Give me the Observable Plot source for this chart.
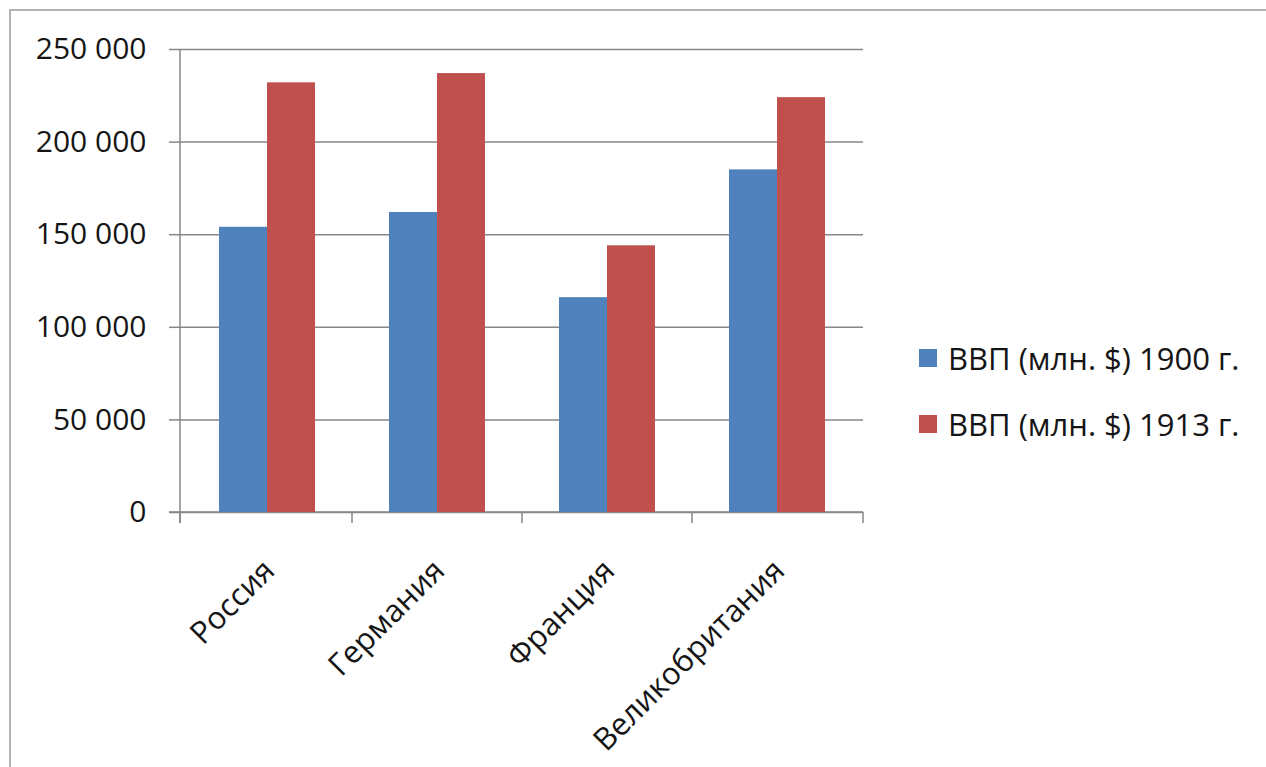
<!DOCTYPE html>
<html>
<head>
<meta charset="utf-8">
<script src="https://cdn.jsdelivr.net/npm/d3@7"></script>
<script src="https://cdn.jsdelivr.net/npm/@observablehq/plot@0.6"></script>
<style>
  html, body { margin: 0; padding: 0; background: #fff; overflow: hidden; width: 1266px; height: 767px; }
  #frame { position: absolute; left: 9px; top: 9px; width: 1300px; height: 800px;
           border-left: 2px solid #b3b3b3; border-top: 2px solid #b3b3b3; }
  #chart { position: absolute; left: 0; top: 0; }
  #legend { position: absolute; left: 919px; top: 325px; font-family: 'Open Sans', sans-serif;
            font-size: 31px; color: #151515; }
  .row { display: flex; align-items: center; height: 66px; white-space: nowrap; }
  .sw { width: 18px; height: 18px; margin-right: 11px; flex: none; }
</style>
</head>
<body>
<div id="frame"></div>
<div id="chart"></div>
<div id="legend"></div>
<script>
const countries = ["Россия", "Германия", "Франция", "Великобритания"];
const gdp1900 = [154000, 162000, 116000, 185000];
const gdp1913 = [232000, 237000, 144000, 224000];
const yTicks = [0, 50000, 100000, 150000, 200000, 250000];
const seriesNames = ["ВВП (млн. $) 1900 г.", "ВВП (млн. $) 1913 г."];
const seriesColors = ["#4F81BD", "#C0504D"];

const rows1900 = countries.map((c, i) => ({country: c, value: gdp1900[i]}));
const rows1913 = countries.map((c, i) => ({country: c, value: gdp1913[i]}));
const fmt = d => d3.format(",")(d).replace(/,/g, " ");
const lineColor = "#878787";

function axisLines(index, scales, values, dims) {
  const {width, height, marginLeft, marginRight, marginTop, marginBottom} = dims;
  const x = scales.x;
  const bw = typeof x.bandwidth === "function" ? x.bandwidth() : 0;
  const y0 = height - marginBottom;
  const g = d3.create("svg:g").attr("stroke", lineColor).attr("stroke-width", 1.5);
  g.append("line").attr("x1", marginLeft).attr("x2", marginLeft).attr("y1", marginTop).attr("y2", y0 + 11);
  g.append("line").attr("x1", marginLeft - 11).attr("x2", width - marginRight).attr("y1", y0).attr("y2", y0);
  const centers = countries.map(c => x(c) + bw / 2);
  const bounds = [marginLeft];
  for (let i = 0; i < centers.length - 1; i++) bounds.push((centers[i] + centers[i + 1]) / 2);
  bounds.push(width - marginRight);
  for (const b of bounds) {
    g.append("line").attr("x1", b).attr("x2", b).attr("y1", y0).attr("y2", y0 + 11);
  }
  return g.node();
}

const chart = Plot.plot({
  width: 880,
  height: 767,
  marginLeft: 180,
  marginRight: 17,
  marginTop: 49,
  marginBottom: 255,
  style: {fontFamily: "'Open Sans', sans-serif", fontSize: "30px", color: "#151515", background: "transparent", overflow: "visible"},
  x: {domain: countries, paddingInner: 0.4375, paddingOuter: 0.21875, axis: null},
  y: {domain: [0, 250000], axis: null},
  marks: [
    Plot.gridY(yTicks, {stroke: lineColor, strokeOpacity: 1, strokeWidth: 1.5}),
    Plot.axisY(yTicks, {tickSize: 11, tickPadding: 23, tickFormat: fmt, label: null, stroke: lineColor, strokeWidth: 1.5, fill: "#151515"}),
    Plot.axisX({tickRotate: -45, tickSize: 0, tickPadding: 53, dx: 2, label: null, fontSize: 31, fill: "#151515"}),
    axisLines,
    Plot.barY(rows1900, {x: "country", y: "value", fill: seriesColors[0], insetRight: 48}),
    Plot.barY(rows1913, {x: "country", y: "value", fill: seriesColors[1], insetLeft: 48})
  ]
});
document.getElementById("chart").appendChild(chart);

const legend = document.getElementById("legend");
seriesNames.forEach((name, i) => {
  const row = document.createElement("div");
  row.className = "row";
  const sw = document.createElement("span");
  sw.className = "sw";
  sw.style.background = seriesColors[i];
  const t = document.createElement("span");
  t.textContent = name;
  row.appendChild(sw);
  row.appendChild(t);
  legend.appendChild(row);
});
</script>
</body>
</html>
